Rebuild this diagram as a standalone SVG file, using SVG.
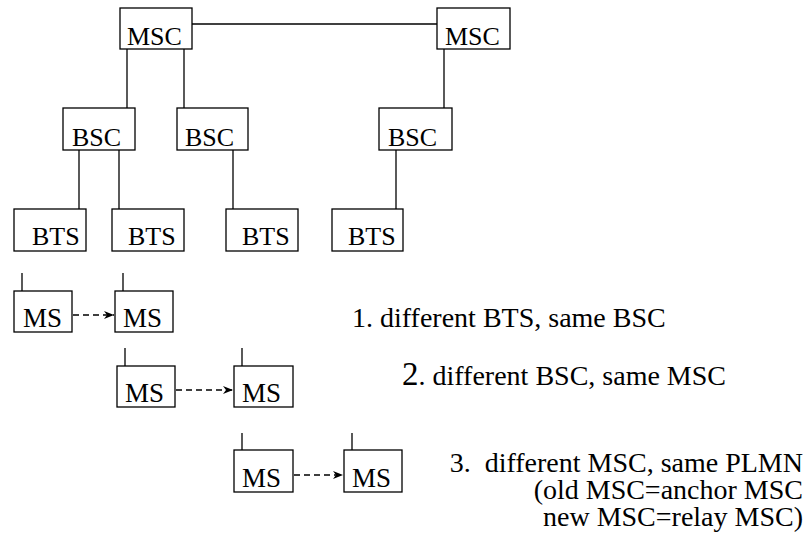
<svg xmlns="http://www.w3.org/2000/svg" width="810" height="547" viewBox="0 0 810 547">
<style>
.box{fill:#fff;stroke:#000;stroke-width:1.3}
.ln{stroke:#000;stroke-width:1.3;fill:none}
.dash{stroke:#000;stroke-width:1.6;fill:none;stroke-dasharray:6 4}
text{fill:#000}
</style>
<defs>
<marker id="ah" markerWidth="11" markerHeight="9" refX="10" refY="4.5" orient="auto" markerUnits="userSpaceOnUse">
<path d="M0,0.5 L10,4.5 L0,8.5 L3,4.5 z" fill="#000"/>
</marker>
</defs>
<rect width="810" height="547" fill="#fff"/>
<g id="connectors">
<line class="ln" x1="192" y1="24" x2="437" y2="24"/>
<line class="ln" x1="127" y1="49" x2="127" y2="108"/>
<line class="ln" x1="184" y1="49" x2="184" y2="108"/>
<line class="ln" x1="444" y1="49" x2="444" y2="108"/>
<line class="ln" x1="79" y1="150" x2="79" y2="209"/>
<line class="ln" x1="119" y1="150" x2="119" y2="209"/>
<line class="ln" x1="233" y1="150" x2="233" y2="209"/>
<line class="ln" x1="396" y1="150" x2="396" y2="209"/>
<line class="dash" x1="73" y1="315" x2="114" y2="315" marker-end="url(#ah)"/>
<line class="dash" x1="176" y1="390" x2="233" y2="390" marker-end="url(#ah)"/>
<line class="dash" x1="294" y1="475" x2="343" y2="475" marker-end="url(#ah)"/>
</g>
<g font-family="Liberation Serif, Times New Roman, serif" font-size="26">
<g id="msc1"><rect class="box" x="120" y="8" width="72" height="41"/><text x="127" y="45">MSC</text></g>
<g id="msc2"><rect class="box" x="437" y="8" width="73" height="41"/><text x="445" y="45">MSC</text></g>
<g id="bsc1"><rect class="box" x="63" y="108" width="72" height="42"/><text x="72" y="146">BSC</text></g>
<g id="bsc2"><rect class="box" x="177" y="108" width="71" height="42"/><text x="185" y="146">BSC</text></g>
<g id="bsc3"><rect class="box" x="379" y="108" width="73" height="42"/><text x="388" y="146">BSC</text></g>
<g id="bts1"><rect class="box" x="14" y="209" width="72" height="42"/><text x="32" y="245">BTS</text></g>
<g id="bts2"><rect class="box" x="112" y="209" width="72" height="42"/><text x="128" y="245">BTS</text></g>
<g id="bts3"><rect class="box" x="226" y="209" width="72" height="42"/><text x="242" y="245">BTS</text></g>
<g id="bts4"><rect class="box" x="332" y="209" width="71" height="42"/><text x="348" y="245">BTS</text></g>
<g id="ms1"><line class="ln" x1="22" y1="273" x2="22" y2="291"/><rect class="box" x="14" y="291" width="58" height="41"/><text x="23" y="327" font-size="27">MS</text></g>
<g id="ms2"><line class="ln" x1="123" y1="273" x2="123" y2="291"/><rect class="box" x="115" y="291" width="58" height="41"/><text x="123" y="327" font-size="27">MS</text></g>
<g id="ms3"><line class="ln" x1="125" y1="348" x2="125" y2="366"/><rect class="box" x="117" y="366" width="58" height="41"/><text x="125" y="402" font-size="27">MS</text></g>
<g id="ms4"><line class="ln" x1="242" y1="348" x2="242" y2="366"/><rect class="box" x="234" y="366" width="59" height="41"/><text x="242" y="402" font-size="27">MS</text></g>
<g id="ms5"><line class="ln" x1="242" y1="433" x2="242" y2="450"/><rect class="box" x="234" y="450" width="59" height="42"/><text x="242" y="487" font-size="27">MS</text></g>
<g id="ms6"><line class="ln" x1="352" y1="433" x2="352" y2="450"/><rect class="box" x="344" y="450" width="58" height="42"/><text x="352" y="487" font-size="27">MS</text></g>
</g>
<g id="labels" font-family="Liberation Serif, Times New Roman, serif" font-size="28">
<text x="352" y="327">1. different BTS, same BSC</text>
<text x="402" y="385"><tspan font-size="33">2</tspan>. different BSC, same MSC</text>
<text x="803" y="472" text-anchor="end" xml:space="preserve">3.  different MSC, same PLMN</text>
<text x="803" y="499" text-anchor="end">(old MSC=anchor MSC</text>
<text x="803" y="526" text-anchor="end">new MSC=relay MSC)</text>
</g>
</svg>
